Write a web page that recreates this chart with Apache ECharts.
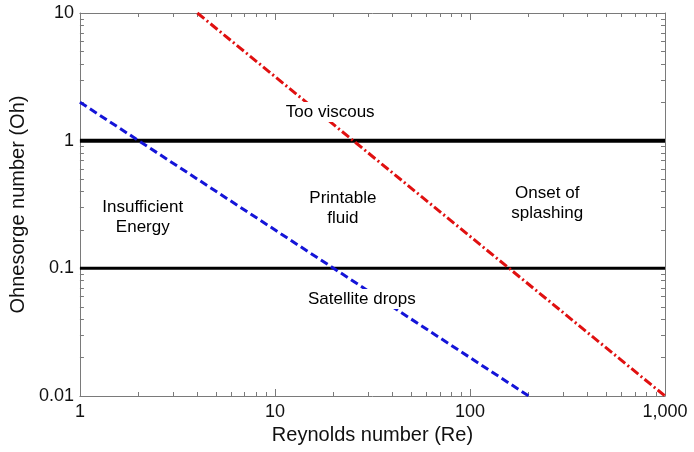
<!DOCTYPE html>
<html>
<head>
<meta charset="utf-8">
<script src="https://cdn.jsdelivr.net/npm/echarts@6/dist/echarts.min.js"></script>
<style>
html,body{margin:0;padding:0;background:#fff;}
#chart{width:694px;height:452px;}
</style>
</head>
<body>
<div id="chart"></div>
<script>
// ---- Data ----
const xTickValues = [1, 10, 100, 1000];
const xTickLabels = ['1', '10', '100', '1,000'];
const yTickValues = [0.01, 0.1, 1, 10];
const yTickLabels = ['0.01', '0.1', '1', '10'];

const thresholdOh = [1, 0.1];            // horizontal black lines
const thresholdWidth = [4, 3];

const blueRe = [1, 200];                 // satellite drops boundary
const blueOh = [2, 0.01];
const redRe = [4, 1000];                 // splashing boundary
const redOh = [10, 0.01];

const regionNames = ['Too viscous', 'Insufficient\nEnergy', 'Printable\nfluid', 'Onset of\nsplashing', 'Satellite drops'];
const regionRe = [19.2, 2.1, 22.3, 249, 27.9];
const regionOh = [1.68, 0.252, 0.294, 0.325, 0.0575];

// minor tick positions (decade subdivisions 2..9)
const minorMult = [2, 3, 4, 5, 6, 7, 8, 9];

// ---- Build ----
const FONT = '"Liberation Sans", Arial, Helvetica, sans-serif';
const GRAY = '#7a7a7a';
const xMinorLog = [];
for (let d = 0; d < 3; d++) minorMult.forEach(m => xMinorLog.push(Math.log10(m * Math.pow(10, d))));
const yMinorLog = [];
for (let d = -2; d < 1; d++) minorMult.forEach(m => yMinorLog.push(Math.log10(m * Math.pow(10, d))));

function fmt(values, labels) {
  return function (v) {
    for (let i = 0; i < values.length; i++) {
      if (Math.abs(Math.log10(v) - Math.log10(values[i])) < 1e-6) return labels[i];
    }
    return '';
  };
}

const chart = echarts.init(document.getElementById('chart'), null, {renderer: 'canvas'});

const series = [];
thresholdOh.forEach((oh, i) => {
  series.push({
    type: 'line', xAxisIndex: 0, yAxisIndex: 0,
    data: [[xTickValues[0], oh], [xTickValues[xTickValues.length - 1], oh]],
    symbol: 'none', silent: true,
    lineStyle: {color: '#000', width: thresholdWidth[i]}
  });
});
series.push({
  type: 'line', xAxisIndex: 0, yAxisIndex: 0,
  data: blueRe.map((r, i) => [r, blueOh[i]]),
  symbol: 'none', silent: true,
  lineStyle: {color: '#1414d8', width: 3, type: [8, 4]}
});
series.push({
  type: 'line', xAxisIndex: 0, yAxisIndex: 0,
  data: redRe.map((r, i) => [r, redOh[i]]),
  symbol: 'none', silent: true,
  lineStyle: {color: '#e01010', width: 3, type: [9, 3, 2, 3]}
});
series.push({
  type: 'scatter', xAxisIndex: 0, yAxisIndex: 0, z: 10,
  symbolSize: 1, silent: true,
  itemStyle: {opacity: 0},
  data: regionNames.map((n, i) => ({name: n, value: [regionRe[i], regionOh[i]]})),
  label: {
    show: true, position: 'inside', formatter: p => p.name, opacity: 1,
    fontFamily: FONT, fontSize: 17, color: '#000', lineHeight: 20, align: 'center',
    backgroundColor: '#fff', padding: [0, 1], textBorderWidth: 0
  }
});

function baseAxis(extra) {
  return Object.assign({
    axisLine: {show: false, onZero: false},
    axisLabel: {show: false}, splitLine: {show: false}
  }, extra);
}

const option = {
  animation: false,
  backgroundColor: '#fff',
  grid: {left: 78, right: 29, top: 13, bottom: 56, containLabel: false},
  xAxis: [
    { // main log axis with labels
      type: 'log', logBase: 10, min: 1, max: 1000, position: 'bottom',
      name: 'Reynolds number (Re)', nameLocation: 'middle', nameGap: 23,
      nameTextStyle: {fontFamily: FONT, fontSize: 20, color: '#111'},
      axisLine: {show: true, onZero: false, lineStyle: {color: GRAY, width: 1}},
      axisTick: {show: true, inside: true, length: 7, lineStyle: {color: GRAY}},
      axisLabel: {show: true, margin: 7, fontFamily: FONT, fontSize: 18, color: '#111',
        formatter: fmt(xTickValues, xTickLabels), showMinLabel: true, showMaxLabel: true},
      splitLine: {show: false}, minorTick: {show: false}
    },
    baseAxis({ // minor ticks bottom (log10 space)
      type: 'value', min: 0, max: 3, position: 'bottom',
      axisTick: {show: true, inside: true, length: 4, customValues: xMinorLog, lineStyle: {color: GRAY}}
    }),
    baseAxis({ // top frame with major ticks
      type: 'log', logBase: 10, min: 1, max: 1000, position: 'top',
      axisLine: {show: true, onZero: false, lineStyle: {color: GRAY, width: 1}},
      axisTick: {show: true, inside: true, length: 7, lineStyle: {color: GRAY}}
    }),
    baseAxis({ // top minor ticks
      type: 'value', min: 0, max: 3, position: 'top',
      axisTick: {show: true, inside: true, length: 4, customValues: xMinorLog, lineStyle: {color: GRAY}}
    })
  ],
  yAxis: [
    {
      type: 'log', logBase: 10, min: 0.01, max: 10, position: 'left',
      name: 'Ohnesorge number (Oh)', nameLocation: 'middle', nameGap: 49, nameRotate: 90,
      nameTextStyle: {fontFamily: FONT, fontSize: 20, color: '#111'},
      axisLine: {show: true, onZero: false, lineStyle: {color: GRAY, width: 1}},
      axisTick: {show: true, inside: true, length: 7, lineStyle: {color: GRAY}},
      axisLabel: {show: true, margin: 6, fontFamily: FONT, fontSize: 18, color: '#111',
        formatter: fmt(yTickValues, yTickLabels), showMinLabel: true, showMaxLabel: true},
      splitLine: {show: false}
    },
    baseAxis({
      type: 'value', min: -2, max: 1, position: 'left',
      axisTick: {show: true, inside: true, length: 4, customValues: yMinorLog, lineStyle: {color: GRAY}}
    }),
    baseAxis({
      type: 'log', logBase: 10, min: 0.01, max: 10, position: 'right',
      axisLine: {show: true, onZero: false, lineStyle: {color: GRAY, width: 1}},
      axisTick: {show: true, inside: true, length: 7, lineStyle: {color: GRAY}}
    }),
    baseAxis({
      type: 'value', min: -2, max: 1, position: 'right',
      axisTick: {show: true, inside: true, length: 4, customValues: yMinorLog, lineStyle: {color: GRAY}}
    })
  ],
  series: series
};
chart.setOption(option);
</script>
</body>
</html>
